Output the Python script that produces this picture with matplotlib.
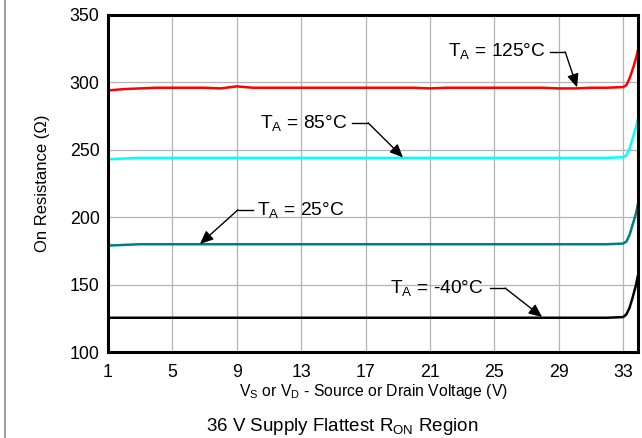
import matplotlib
matplotlib.use('Agg')
import matplotlib.pyplot as plt
from matplotlib.lines import Line2D

plt.rcParams['font.family'] = ['Liberation Sans', 'DejaVu Sans']
plt.rcParams['mathtext.fontset'] = 'custom'
plt.rcParams['mathtext.rm'] = 'Liberation Sans'
plt.rcParams['mathtext.it'] = 'Liberation Sans'

# source / drain voltage (V)
volts = [1, 2, 3, 4, 5, 6, 7, 8, 9, 10, 11, 12, 13, 14, 15, 16, 17, 18, 19, 20,
         21, 22, 23, 24, 25, 26, 27, 28, 29, 30, 31, 32, 33, 33.2, 33.4, 33.6, 33.8, 33.9]

# on resistance (ohm) per temperature
r_125 = [294, 295, 295.5, 296, 296, 296, 296, 295.5, 297, 296, 296, 296, 296, 296, 296, 296, 296, 296, 296, 296,
         295.5, 296, 296, 296, 296, 296, 296, 296, 295.5, 295.5, 296, 296, 296.5, 298, 303, 310, 318, 323]
r_85 = [243, 243.5, 244, 244, 244, 244, 244, 244, 244, 244, 244, 244, 244, 244, 244, 244, 244, 244, 244, 244,
        244, 244, 244, 244, 244, 244, 244, 244, 244, 244, 244, 244, 244.5, 246, 251, 259, 267, 272]
r_25 = [179, 179.5, 180, 180, 180, 180, 180, 180, 180, 180, 180, 180, 180, 180, 180, 180, 180, 180, 180, 180,
        180, 180, 180, 180, 180, 180, 180, 180, 180, 180, 180, 180, 180.5, 182, 187, 195, 203, 209]
r_m40 = [125.5, 125.5, 125.5, 125.5, 125.5, 125.5, 125.5, 125.5, 125.5, 125.5, 125.5, 125.5, 125.5, 125.5, 125.5,
         125.5, 125.5, 125.5, 125.5, 125.5, 125.5, 125.5, 125.5, 125.5, 125.5, 125.5, 125.5, 125.5, 125.5, 125.5,
         125.5, 125.5, 126, 128, 133, 141, 150, 156]

x_ticks = [1, 5, 9, 13, 17, 21, 25, 29, 33]
y_ticks = [100, 150, 200, 250, 300, 350]

fig = plt.figure(figsize=(6.42, 4.38), dpi=100)
ax = fig.add_axes([0.168, 0.196, 0.826, 0.770])

ax.plot(volts, r_125, color='#ff0000', lw=1.8)
ax.plot(volts, r_85, color='#00ffff', lw=1.8)
ax.plot(volts, r_25, color='#008080', lw=1.8)
ax.plot(volts, r_m40, color='black', lw=1.8)

ax.set_xlim(1, 33.93)
ax.set_ylim(100, 350)
ax.set_xticks(x_ticks)
ax.set_yticks(y_ticks)
ax.grid(True, color='#b4b4b4', lw=0.9)
ax.set_axisbelow(True)
ax.tick_params(axis='y', length=0, labelsize=12.8, pad=6)
ax.tick_params(axis='x', length=0, labelsize=12.8, pad=8.5)
for s in ax.spines.values():
    s.set_linewidth(2.2)

ax.set_xlabel(r'V$_\mathrm{S}$ or V$_\mathrm{D}$ - Source or Drain Voltage (V)', fontsize=11.3, labelpad=1)
ax.set_ylabel('On Resistance (Ω)', fontsize=12, labelpad=14)

# labels with elbow arrows: (text, text x, text y, ha, elbow start, elbow end, tip)
labels = [
    ('T$_\\mathrm{A}$ = 125°C', 28.16, 323, 'right', (28.47, 322.6), (29.40, 322.6), (30.14, 296.3)),
    ('T$_\\mathrm{A}$ = 85°C', 15.85, 270, 'right', (16.16, 270), (17.16, 270), (19.33, 244.3)),
    ('T$_\\mathrm{A}$ = 25°C', 10.26, 205.5, 'left', (10.0, 205.5), (9.08, 205.5), (6.72, 180.2)),
    ('T$_\\mathrm{A}$ = -40°C', 24.3, 147.5, 'right', (24.73, 147.5), (25.67, 147.5), (27.97, 126)),
]
for txt, tx, ty, ha, p0, p1, tip in labels:
    ax.text(tx, ty, txt, ha=ha, va='center', fontsize=13.8)
    ax.plot([p0[0], p1[0]], [p0[1], p1[1]], color='black', lw=1)
    ax.annotate('', xy=tip, xytext=p1,
                arrowprops=dict(arrowstyle='-|>,head_length=0.8,head_width=0.35',
                                color='black', lw=1, shrinkA=0, shrinkB=0))

fig.text(0.533, 0.027, r'36 V Supply Flattest R$_\mathrm{ON}$ Region', ha='center', va='center', fontsize=13.5)

# left frame line of the figure panel
fig.add_artist(Line2D([0.008, 0.008], [0, 1], transform=fig.transFigure, color='#8c8c8c', lw=1.2))

fig.savefig('out.png', dpi=100)
